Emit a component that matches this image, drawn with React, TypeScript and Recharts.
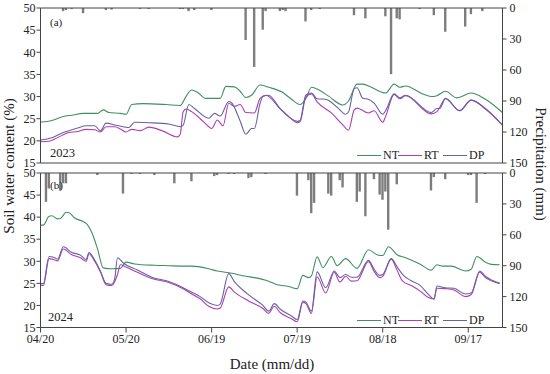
import { ComposedChart, Line, Bar, XAxis, YAxis } from "recharts";

type Pt = [number, number];

// day 0 = 04/20
const nt2023: Pt[] = [
  [0, 24.2], [4, 24.6], [8, 25.5], [11, 25.8], [15, 26.2], [20, 26.2], [22, 27.0], [24, 26.4],
  [28, 26.2], [30, 26.0], [32, 28.2], [36, 28.4], [44, 28.2], [49, 28.0], [51, 30.0], [53, 31.5],
  [55, 31.0], [58, 29.6], [63, 29.6], [65, 32.3], [68, 32.2], [70, 31.2], [72, 29.8], [74, 30.3],
  [77, 32.6], [80, 32.1], [85, 30.9], [88, 29.4], [91, 28.2], [93, 29.5], [95, 32.1], [97, 31.7],
  [101, 30.1], [106, 28.1], [108, 29.0], [111, 32.8], [113, 32.8], [116, 32.1], [121, 30.8],
  [124, 32.8], [126, 32.1], [128, 32.4], [134, 30.6], [137, 30.0], [139, 30.2], [142, 31.2],
  [146, 29.7], [151, 30.8], [156, 29.4], [162, 26.4],
];
const rt2023: Pt[] = [
  [0, 19.8], [3, 19.9], [5, 20.4], [8, 21.4], [10, 21.9], [13, 22.1], [16, 22.6], [19, 22.5],
  [21, 22.0], [23, 23.2], [26, 23.2], [28, 22.7], [30, 22.0], [32, 22.6], [35, 22.3], [38, 23.1],
  [43, 22.2], [48, 20.9], [49, 21.5], [50, 26.5], [51, 27.2], [53, 26.6], [56, 25.0], [59, 23.2],
  [60, 22.8], [62, 24.7], [64, 23.4], [66, 28.5], [68, 27.8], [70, 28.2], [72, 26.4], [75, 26.3],
  [77, 29.6], [79, 30.3], [84, 27.3], [87, 25.5], [90, 24.1], [91, 24.3], [93, 29.8], [95, 30.6],
  [97, 28.8], [102, 26.3], [106, 23.6], [108, 22.4], [110, 27.0], [111, 27.4], [115, 26.3],
  [117, 26.8], [120, 24.2], [121, 25.5], [124, 30.5], [126, 29.5], [128, 30.2], [137, 26.1],
  [139, 26.6], [142, 29.5], [147, 26.8], [151, 29.2], [156, 27.3], [162, 23.5],
];
const dp2023: Pt[] = [
  [0, 20.2], [4, 20.7], [8, 21.9], [10, 22.3], [13, 22.9], [16, 23.4], [19, 23.4], [21, 22.3],
  [23, 24.0], [26, 23.6], [29, 23.2], [31, 23.0], [33, 24.2], [38, 24.1], [45, 23.8], [49, 23.2],
  [50, 23.5], [52, 28.2], [54, 27.3], [59, 25.1], [61, 26.2], [63, 25.6], [66, 28.9], [67, 28.6],
  [70, 24.5], [72, 21.5], [74, 22.8], [75, 22.8], [77, 28.5], [78, 30.0], [80, 30.3], [84, 27.3],
  [90, 24.4], [91, 24.6], [93, 30.3], [95, 30.8], [97, 29.5], [100, 29.4], [104, 27.6], [107, 26.0],
  [108, 26.5], [110, 31.8], [111, 32.0], [113, 29.6], [115, 29.4], [117, 28.5], [120, 26.0],
  [121, 26.8], [124, 30.6], [126, 29.7], [128, 30.3], [137, 26.4], [139, 27.3], [140, 27.3],
  [142, 29.6], [147, 26.8], [151, 29.2], [156, 27.2], [162, 23.6],
];
const rain2023: Pt[] = [
  [8, 3], [9, 2], [11, 1], [15, 5], [23, 2], [25, 1.5], [35, 1], [38, 1], [49, 1], [50, 1],
  [52, 3], [54, 2], [60, 2], [72, 31], [75, 57], [78, 21], [79, 3], [84, 3], [85, 2], [86, 3],
  [93, 13], [95, 2], [98, 1], [110, 7], [114, 10], [121, 8], [123, 64], [125, 10], [126, 11],
  [133, 1], [138, 7], [142, 23], [149, 18], [151, 6], [155, 3],
];

const nt2024: Pt[] = [
  [0, 38.2], [1, 38.2], [3, 40.2], [4, 40.3], [6, 39.6], [7, 39.7], [9, 41.1], [10, 41.0],
  [12, 39.8], [15, 39.0], [16, 38.6], [18, 36.5], [20, 32.8], [22, 28.5], [25, 28.3], [28, 28.4],
  [30, 29.8], [33, 29.4], [40, 29.1], [45, 29.0], [50, 28.9], [53, 28.9], [59, 28.3], [62, 27.8],
  [67, 27.3], [72, 26.6], [75, 26.3], [80, 25.5], [83, 24.7], [87, 24.3], [90, 23.8], [92, 26.8],
  [94, 26.3], [95, 26.7], [97, 31.0], [99, 28.6], [102, 31.1], [104, 29.0], [107, 30.6],
  [111, 28.4], [115, 32.6], [118, 31.5], [120, 31.3], [122, 33.3], [125, 31.5], [128, 30.8],
  [133, 29.4], [137, 28.0], [139, 29.2], [141, 28.9], [144, 28.9], [149, 27.8], [151, 28.2],
  [153, 31.1], [156, 29.8], [158, 29.3], [161, 29.2],
];
const rt2024: Pt[] = [
  [0, 24.6], [1, 24.5], [3, 30.6], [5, 30.3], [6, 30.1], [8, 32.8], [11, 31.5], [14, 30.8],
  [16, 30.0], [17, 31.7], [19, 30.0], [21, 27.6], [23, 24.7], [25, 24.5], [27, 27.0], [28, 29.2],
  [30, 28.7], [34, 27.5], [39, 26.1], [45, 25.2], [50, 23.8], [53, 22.6], [56, 21.5], [59, 19.8],
  [62, 19.2], [63, 19.4], [66, 24.2], [68, 23.0], [73, 21.0], [78, 19.3], [80, 18.2], [82, 19.8],
  [84, 18.4], [88, 17.0], [90, 16.3], [92, 20.7], [93, 20.5], [95, 18.2], [97, 26.5], [100, 22.8],
  [103, 27.5], [105, 25.3], [107, 26.6], [109, 25.5], [111, 25.6], [115, 29.9], [117, 27.7],
  [119, 26.3], [120, 26.6], [123, 30.5], [125, 28.0], [127, 25.5], [130, 24.5], [133, 23.3],
  [136, 21.8], [138, 21.5], [139, 23.9], [142, 23.8], [145, 23.5], [149, 22.0], [151, 22.4],
  [154, 27.5], [156, 26.3], [161, 25.0],
];
const dp2024: Pt[] = [
  [0, 25.0], [1, 24.9], [3, 31.1], [5, 30.8], [6, 30.5], [8, 33.3], [11, 32.0], [14, 31.4],
  [16, 30.4], [17, 32.0], [19, 30.3], [21, 27.8], [23, 25.0], [25, 24.8], [26, 26.0], [27, 30.8],
  [29, 29.6], [34, 28.0], [39, 26.4], [45, 25.4], [50, 24.0], [53, 23.0], [56, 22.0], [59, 20.6],
  [62, 20.0], [63, 20.3], [66, 27.2], [68, 25.4], [73, 22.4], [78, 20.0], [80, 18.7], [82, 20.4],
  [84, 19.2], [88, 17.6], [90, 16.8], [92, 21.0], [93, 20.8], [95, 18.7], [97, 27.6], [100, 24.0],
  [103, 27.8], [105, 26.3], [107, 27.0], [109, 26.4], [111, 26.4], [115, 30.2], [117, 28.2],
  [119, 26.8], [120, 27.0], [123, 30.6], [125, 28.8], [127, 27.0], [130, 25.6], [133, 24.6],
  [136, 22.5], [138, 21.4], [139, 24.4], [142, 24.0], [145, 23.9], [149, 22.6], [151, 22.8],
  [154, 27.8], [156, 26.6], [161, 25.0],
];
const rain2024: Pt[] = [
  [2, 28], [3, 15], [7, 17], [8, 10], [9, 10], [20, 2], [29, 20], [32, 1], [35, 1], [40, 2],
  [47, 10], [53, 8], [61, 3], [62, 2], [66, 1], [68, 1], [73, 5], [74, 4], [79, 1], [90, 22],
  [94, 7], [95, 39], [96, 29], [101, 20], [102, 22], [105, 7], [106, 14], [111, 28], [112, 18],
  [114, 42], [117, 6], [119, 21], [120, 26], [121, 18], [122, 55], [125, 11], [137, 17], [138, 4],
  [142, 6], [150, 2], [151, 2], [153, 29], [156, 1],
];

const tickDays = [0, 30, 60, 90, 120, 150];
const tickLabels = ["04/20", "05/20", "06/19", "07/19", "08/18", "09/17"];
const swcTicks = [15, 20, 25, 30, 35, 40, 45, 50];
const rainTicks = [0, 30, 60, 90, 120, 150];
const LAST_DAY = 162;

const FONT = "'Liberation Serif', 'Times New Roman', serif";
const AXIS = "#444";
const C_NT = "#3f8f62";
const C_RT = "#b03cb4";
const C_DP = "#6464a0";

function buildRows(nt: Pt[], rt: Pt[], dp: Pt[], rain: Pt[]) {
  const a = new Map(nt), b = new Map(rt), c = new Map(dp), r = new Map(rain);
  const rows = [];
  for (let d = 0; d <= LAST_DAY; d++) {
    rows.push({ day: d, nt: a.get(d), rt: b.get(d), dp: c.get(d), rain: r.get(d) });
  }
  return rows;
}

const rows2023 = buildRows(nt2023, rt2023, dp2023, rain2023);
const rows2024 = buildRows(nt2024, rt2024, dp2024, rain2024);

const tickStyle = { fontSize: 12, fontFamily: FONT, fill: "#222" };

function Panel({ rows, height, bottom, dates }: { rows: any[]; height: number; bottom: number; dates: boolean }) {
  return (
    <ComposedChart width={550} height={height} data={rows} margin={{ top: 0, right: 0, bottom: 0, left: 0 }}>
      <XAxis
        xAxisId="top"
        orientation="top"
        type="number"
        dataKey="day"
        domain={[0, LAST_DAY]}
        height={8}
        tick={false}
        tickLine={false}
        stroke={AXIS}
      />
      <XAxis
        type="number"
        dataKey="day"
        domain={[0, LAST_DAY]}
        ticks={tickDays}
        tickFormatter={(d: number) => tickLabels[tickDays.indexOf(d)]}
        height={bottom}
        tick={dates ? tickStyle : false}
        tickLine={dates}
        tickSize={5}
        tickMargin={2}
        stroke={AXIS}
      />
      <YAxis
        yAxisId="swc"
        domain={[15, 50]}
        ticks={swcTicks}
        width={40.5}
        tick={tickStyle}
        tickSize={4}
        tickMargin={1}
        stroke={AXIS}
        allowDataOverflow
      />
      <YAxis
        yAxisId="p"
        orientation="right"
        domain={[0, 150]}
        reversed
        ticks={rainTicks}
        width={47.5}
        tick={tickStyle}
        tickSize={4}
        tickMargin={3}
        stroke={AXIS}
      />
      <Bar yAxisId="p" dataKey="rain" fill="#7d7d7d" barSize={2.4} isAnimationActive={false} />
      <Line yAxisId="swc" type="monotone" dataKey="nt" stroke={C_NT} strokeWidth={1.1} dot={false} connectNulls isAnimationActive={false} />
      <Line yAxisId="swc" type="monotone" dataKey="rt" stroke={C_RT} strokeWidth={1.1} dot={false} connectNulls isAnimationActive={false} />
      <Line yAxisId="swc" type="monotone" dataKey="dp" stroke={C_DP} strokeWidth={1.1} dot={false} connectNulls isAnimationActive={false} />
    </ComposedChart>
  );
}

const txt = { position: "absolute" as const, fontFamily: FONT, color: "#222", lineHeight: 1, whiteSpace: "nowrap" as const };

function LegendRow({ top }: { top: number }) {
  const items = [
    { name: "NT", color: C_NT, x: 357 },
    { name: "RT", color: C_RT, x: 398 },
    { name: "DP", color: C_DP, x: 443 },
  ];
  return (
    <>
      {items.map((it) => (
        <div key={it.name}>
          <div style={{ position: "absolute", left: it.x, top, width: 24, borderTop: `1.2px solid ${it.color}` }} />
          <div style={{ ...txt, left: it.x + 26, top: top - 6, fontSize: 12 }}>{it.name}</div>
        </div>
      ))}
    </>
  );
}

export default function App() {
  return (
    <div style={{ position: "absolute", left: 0, top: 0, width: 550, height: 374, background: "#fff", overflow: "hidden" }}>
      <div style={{ position: "absolute", left: 0, top: 0 }}>
        <Panel rows={rows2023} height={172} bottom={9} dates={false} />
      </div>
      <div style={{ position: "absolute", left: 0, top: 165 }}>
        <Panel rows={rows2024} height={209} bottom={46.5} dates />
      </div>

      <div style={{ ...txt, left: 50, top: 17, fontSize: 11 }}>(a)</div>
      <div style={{ ...txt, left: 50, top: 147, fontSize: 12.5 }}>2023</div>
      <div style={{ ...txt, left: 50, top: 180, fontSize: 11 }}>(b)</div>
      <div style={{ ...txt, left: 48, top: 311, fontSize: 12.5 }}>2024</div>

      <LegendRow top={155} />
      <LegendRow top={320} />

      <div style={{ ...txt, left: 9, top: 166, fontSize: 15, transform: "translate(-50%, -50%) rotate(-90deg)" }}>
        Soil water content (%)
      </div>
      <div style={{ ...txt, left: 540, top: 164, fontSize: 15, transform: "translate(-50%, -50%) rotate(90deg)" }}>
        Precipitation (mm)
      </div>
      <div style={{ ...txt, left: 272, top: 364, fontSize: 15, transform: "translate(-50%, -50%)" }}>
        Date (mm/dd)
      </div>
    </div>
  );
}
